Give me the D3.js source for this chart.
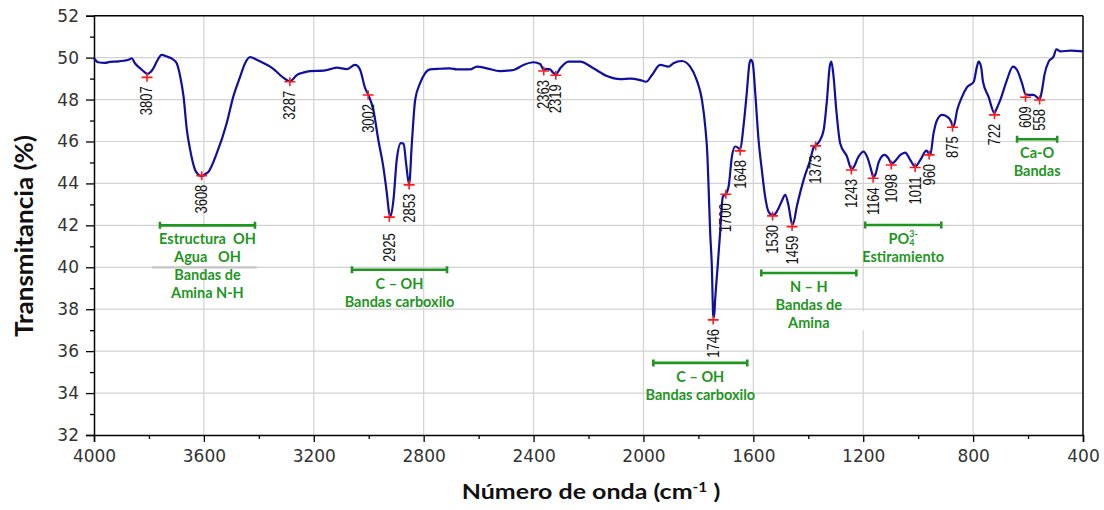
<!DOCTYPE html>
<html>
<head>
<meta charset="utf-8">
<script src="https://cdn.jsdelivr.net/npm/d3@7"></script>
<style>
  html, body { margin: 0; padding: 0; background: #fff; }
  svg { display: block; }
</style>
</head>
<body>
<svg id="chart" width="1104" height="510"></svg>
<script>
// FTIR spectrum: wavenumber (cm-1) and transmittance (%)
const wavenumber = [
  4000, 3985, 3960, 3942, 3910, 3893, 3870, 3863, 3851, 3832, 3815, 3806, 3795, 3784, 3770, 3754,
  3735, 3711, 3699, 3686, 3674, 3662, 3650, 3632, 3618, 3608, 3595, 3583, 3553, 3517, 3493, 3468,
  3450, 3432, 3408, 3380, 3359, 3340, 3323, 3298, 3286, 3275, 3262, 3240, 3214, 3165, 3140, 3116,
  3080, 3050, 3040, 3031, 3013, 3001, 2983, 2965, 2947, 2934, 2925, 2920, 2910, 2898, 2883, 2873,
  2864, 2853, 2843, 2831, 2813, 2795, 2777, 2740, 2704, 2679, 2631, 2606, 2570, 2522, 2473, 2437,
  2400, 2376, 2363, 2352, 2340, 2330, 2319, 2303, 2273, 2230, 2182, 2133, 2085, 2048, 2012, 1990,
  1969, 1939, 1909, 1891, 1860, 1830, 1806, 1787, 1775, 1767, 1763, 1757, 1751, 1746, 1743, 1739,
  1730, 1721, 1711, 1700, 1690, 1678, 1666, 1655, 1648, 1636, 1624, 1614, 1609, 1602, 1593, 1581,
  1569, 1557, 1545, 1530, 1520, 1508, 1495, 1484, 1472, 1460, 1456, 1441, 1417, 1393, 1381, 1373,
  1360, 1344, 1332, 1322, 1316, 1308, 1298, 1284, 1259, 1243, 1238, 1217, 1199, 1186, 1168, 1164,
  1155, 1144, 1123, 1108, 1098, 1089, 1065, 1047, 1029, 1011, 992, 970, 960, 956, 944, 931,
  913, 895, 880, 875, 871, 858, 840, 822, 798, 786, 780, 771, 764, 744, 722, 719,
  701, 677, 655, 640, 622, 609, 595, 580, 567, 558, 548, 540, 525, 507, 497, 482,
  445, 400
];
const transmittance = [
  49.97, 49.78, 49.75, 49.80, 49.82, 49.85, 49.92, 49.97, 49.73, 49.49, 49.30, 49.22, 49.30, 49.49, 49.85, 50.13,
  50.05, 49.90, 49.73, 49.09, 48.14, 46.55, 45.60, 44.64, 44.40, 44.35, 44.45, 44.56, 45.44, 46.87, 48.14, 49.09,
  49.73, 50.02, 49.90, 49.72, 49.57, 49.38, 49.17, 48.93, 48.87, 48.98, 49.17, 49.28, 49.36, 49.38, 49.45, 49.52,
  49.45, 49.65, 49.60, 49.41, 48.54, 48.22, 47.50, 46.07, 44.80, 43.53, 42.55, 42.45, 43.21, 45.12, 45.92, 45.90,
  44.96, 43.95, 45.92, 47.98, 48.78, 49.25, 49.44, 49.47, 49.49, 49.44, 49.44, 49.57, 49.49, 49.36, 49.41, 49.65,
  49.78, 49.70, 49.42, 49.46, 49.44, 49.30, 49.20, 49.49, 49.81, 49.81, 49.49, 49.12, 48.97, 49.00, 48.93, 48.85,
  49.17, 49.65, 49.57, 49.73, 49.84, 49.57, 48.93, 47.98, 46.71, 45.28, 43.85, 41.63, 40.03, 37.70, 37.60, 38.45,
  40.03, 41.63, 43.37, 43.50, 43.85, 45.28, 45.76, 45.70, 45.60, 46.71, 48.30, 49.73, 49.89, 49.73, 48.30, 46.07,
  44.64, 43.37, 42.66, 42.48, 42.55, 42.82, 43.20, 43.45, 42.95, 42.10, 42.05, 42.95, 44.17, 45.12, 45.70, 45.82,
  46.00, 46.55, 47.98, 49.57, 49.81, 49.10, 47.50, 45.92, 45.28, 44.70, 44.72, 45.28, 45.52, 45.28, 44.49, 44.30,
  44.45, 45.00, 45.36, 45.20, 44.95, 45.00, 45.36, 45.47, 45.12, 44.80, 45.12, 45.56, 45.40, 45.36, 46.39, 47.03,
  47.27, 47.19, 46.95, 46.75, 46.72, 47.50, 48.14, 48.59, 48.85, 49.57, 49.81, 49.57, 48.85, 48.14, 47.35, 47.43,
  47.98, 48.93, 49.57, 49.41, 48.78, 48.25, 48.22, 48.22, 48.10, 48.00, 48.54, 49.20, 49.81, 50.05, 50.40, 50.30,
  50.33, 50.30
];

// Marked absorption peaks
const peakWavenumber = [3807, 3608, 3287, 3002, 2925, 2853, 2363, 2319, 1746, 1700, 1648, 1530,
                        1459, 1373, 1243, 1164, 1098, 1011, 960, 875, 722, 609, 558];
const peakTransmittance = [49.06, 44.37, 48.85, 48.22, 42.39, 43.93, 49.36, 49.16, 37.49, 43.48, 45.55, 42.45,
                           41.94, 45.79, 44.64, 44.25, 44.88, 44.76, 45.36, 46.68, 47.27, 48.11, 47.98];

// Axis ticks
const xTickLabels = [4000, 3600, 3200, 2800, 2400, 2000, 1600, 1200, 800, 400];
const xMinorTicks = [3800, 3400, 3000, 2600, 2200, 1800, 1400, 1000, 600];
const yTickLabels = [32, 34, 36, 38, 40, 42, 44, 46, 48, 50, 52];
const yMinorTicks = [33, 35, 37, 39, 41, 43, 45, 47, 49, 51];

// Band assignments: bracket span (cm-1), bracket level (%), text lines
const bandFrom  = [3760, 3061, 1964, 1571, 1193, 640];
const bandTo    = [3414, 2715, 1622, 1225, 916, 494];
const bandLevel = [42.0, 39.88, 35.44, 39.73, 42.02, 46.11];
const bandText  = [
  ["Estructura  OH", "Agua   OH", "Bandas de", "Amina N-H"],
  ["C – OH", "Bandas carboxilo"],
  ["C – OH", "Bandas carboxilo"],
  ["N – H", "Bandas de", "Amina"],
  ["PO4", "Estiramiento"],
  ["Ca-O", "Bandas"]
];

const W = 1104, H = 510;
const margin = { top: 15.7, right: 21, bottom: 75, left: 94 };
const svg = d3.select("#chart");

const x = d3.scaleLinear().domain([4000, 400]).range([margin.left, W - margin.right]);
const y = d3.scaleLinear().domain([32, 52]).range([H - margin.bottom, margin.top]);

const GREEN = "#1f961f";
const BLUE = "#0f0fa0";
const RED = "#ff1a1a";

// Grid
const grid = svg.append("g").attr("stroke", "#d2d2d2").attr("stroke-width", 1.2);
grid.selectAll("line.v").data(xTickLabels.slice(1, -1)).join("line")
  .attr("x1", d => x(d)).attr("x2", d => x(d))
  .attr("y1", y(52)).attr("y2", y(32));
grid.selectAll("line.h").data(yTickLabels.slice(1, -1)).join("line")
  .attr("x1", x(4000)).attr("x2", x(400))
  .attr("y1", d => y(d)).attr("y2", d => y(d));

// Text boxes with white fill that hide the grid behind them
svg.append("rect").attr("x", x(3795)).attr("y", y(41.9)).attr("width", x(3408) - x(3795))
  .attr("height", y(40) - y(41.9)).attr("fill", "#fff");
svg.append("line").attr("x1", x(3790)).attr("x2", x(3408)).attr("y1", y(40)).attr("y2", y(40))
  .attr("stroke", "#c4c4c4").attr("stroke-width", 2.2);
svg.append("rect").attr("x", x(1595)).attr("y", y(37.9)).attr("width", x(1180) - x(1595))
  .attr("height", y(37.0) - y(37.9)).attr("fill", "#fff");

// Frame: top and right borders
svg.append("line").attr("x1", x(4000)).attr("x2", x(400)).attr("y1", y(52)).attr("y2", y(52))
  .attr("stroke", "#000").attr("stroke-width", 1.5);
svg.append("line").attr("x1", x(400)).attr("x2", x(400)).attr("y1", y(52)).attr("y2", y(32))
  .attr("stroke", "#000").attr("stroke-width", 1.5);

// Axes
const tickFont = "'DejaVu Sans', sans-serif";
const xAxis = svg.append("g").attr("transform", `translate(0,${y(32)})`)
  .call(d3.axisBottom(x).tickValues(xTickLabels).tickSize(7).tickPadding(8).tickFormat(d3.format("d")));
const xMinor = svg.append("g").attr("transform", `translate(0,${y(32)})`)
  .call(d3.axisBottom(x).tickValues(xMinorTicks).tickSize(4).tickFormat(""));
const yAxis = svg.append("g").attr("transform", `translate(${x(4000)},0)`)
  .call(d3.axisLeft(y).tickValues(yTickLabels).tickSize(8).tickPadding(7).tickFormat(d3.format("d")));
const yMinor = svg.append("g").attr("transform", `translate(${x(4000)},0)`)
  .call(d3.axisLeft(y).tickValues(yMinorTicks).tickSize(4).tickFormat(""));
[xAxis, xMinor, yAxis, yMinor].forEach(g => {
  g.select(".domain").attr("stroke", "#000").attr("stroke-width", 1.5);
  g.selectAll(".tick line").attr("stroke", "#000").attr("stroke-width", 1.3);
  g.selectAll(".tick text").attr("font-family", tickFont).attr("font-size", 17).attr("fill", "#333");
});
xMinor.select(".domain").remove();
yMinor.select(".domain").remove();

// Axis titles
svg.append("text")
  .attr("transform", "translate(591,499) scale(1.19,1)")
  .attr("text-anchor", "middle")
  .attr("font-family", "Lato, sans-serif").attr("font-weight", 700).attr("font-size", 21)
  .attr("fill", "#111")
  .call(t => {
    t.append("tspan").text("Número de onda (cm");
    t.append("tspan").attr("font-size", 13).attr("baseline-shift", "55%").text("-1");
    t.append("tspan").text(" )");
  });
svg.append("text")
  .attr("transform", "translate(33,236) rotate(-90)")
  .attr("text-anchor", "middle")
  .attr("font-family", "Lato, sans-serif").attr("font-weight", 700).attr("font-size", 24)
  .attr("fill", "#111")
  .attr("textLength", 202).attr("lengthAdjust", "spacingAndGlyphs")
  .text("Transmitancia (%)");

// Band brackets and labels
const bands = bandFrom.map((f, i) => ({ from: f, to: bandTo[i], level: bandLevel[i], lines: bandText[i] }));
const bandG = svg.append("g").selectAll("g").data(bands).join("g");
bandG.append("path")
  .attr("d", d => {
    const x1 = x(d.from), x2 = x(d.to), yy = y(d.level);
    return `M${x1},${yy}H${x2}M${x1},${yy - 3.5}V${yy + 3.5}M${x2},${yy - 3.5}V${yy + 3.5}`;
  })
  .attr("stroke", GREEN).attr("stroke-width", 2.6).attr("fill", "none");
bandG.each(function (d) {
  const g = d3.select(this);
  const cx = (x(d.from) + x(d.to)) / 2;
  d.lines.forEach((line, j) => {
    const t = g.append("text")
      .attr("x", cx).attr("y", y(d.level) + 14 + j * 18)
      .attr("dy", "0.35em")
      .attr("text-anchor", "middle")
      .style("white-space", "pre")
      .attr("font-family", "Lato, sans-serif").attr("font-weight", 700).attr("font-size", 14.5)
      .attr("fill", GREEN);
    if (line === "PO4") {
      t.append("tspan").text("PO");
      t.append("tspan").attr("font-size", 9).attr("baseline-shift", "-25%").text("4");
      t.append("tspan").attr("font-size", 9).attr("dx", -5).attr("baseline-shift", "80%").text("3-");
    } else {
      t.text(line);
    }
  });
});

// Spectrum line
const spectrum = wavenumber.map((w, i) => [w, transmittance[i]]);
svg.append("path")
  .datum(spectrum)
  .attr("fill", "none")
  .attr("stroke", BLUE)
  .attr("stroke-width", 2.2)
  .attr("stroke-linejoin", "round")
  .attr("d", d3.line().x(d => x(d[0])).y(d => y(d[1])).curve(d3.curveMonotoneX));

// Peak markers and labels
const peaks = peakWavenumber.map((w, i) => ({ w, t: peakTransmittance[i] }));
const labelGap = { 2925: 16 };
svg.append("g").selectAll("path").data(peaks).join("path")
  .attr("transform", d => `translate(${x(d.w)},${y(d.t)})`)
  .attr("d", "M-5.5,0H5.5M0,-4.5V4.5")
  .attr("stroke", RED).attr("stroke-width", 1.6);
svg.append("g").selectAll("text").data(peaks).join("text")
  .attr("transform", d => `translate(${x(d.w)},${y(d.t) + (labelGap[d.w] || 9)}) rotate(-90) scale(1,1.2)`)
  .attr("text-anchor", "end")
  .attr("dy", "0.35em")
  .attr("font-family", "'Liberation Sans', Arial, sans-serif").attr("font-size", 13)
  .attr("fill", "#111")
  .text(d => d.w);
</script>
</body>
</html>
